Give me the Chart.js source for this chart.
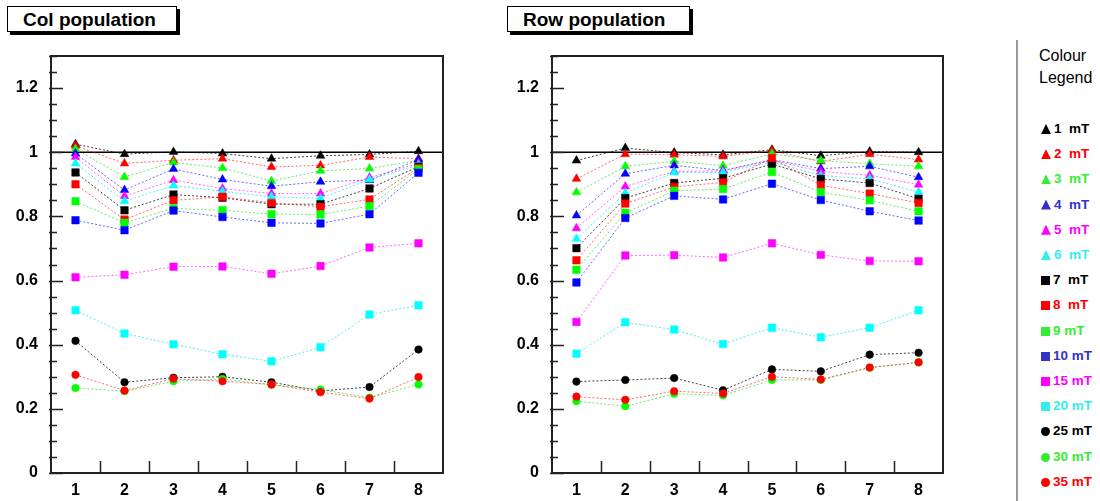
<!DOCTYPE html>
<html>
<head>
<meta charset="utf-8">
<script src="https://cdn.jsdelivr.net/npm/chart.js@4.4.1/dist/chart.umd.min.js"></script>
<style>
  body { margin: 0; background: #fff; width: 1100px; height: 501px; overflow: hidden; position: relative; font-family: 'Liberation Sans', Arial, sans-serif; }
  .title { position: absolute; top: 6px; height: 26px; border: 1px solid #000; background: #fff; box-shadow: 3px 3px 0 #000;
           font-weight: bold; font-size: 19px; line-height: 26px; box-sizing: border-box; padding-left: 15px; }
  canvas { position: absolute; top: 0; }
  #legend { position: absolute; left: 1016px; top: 40px; width: 84px; height: 461px; border-left: 2px solid #999; }
  .lhead { position: absolute; left: 21px; font-size: 16px; }
  .lrow { position: absolute; left: 23px; font-size: 13.5px; font-weight: bold; white-space: pre; height: 14px; line-height: 14px; }
  .mk { display: inline-block; width: 10px; height: 10px; margin-right: 3px; vertical-align: -1px; }
</style>
</head>
<body>
<div class="title" style="left:7px;width:170px;">Col population</div>
<div class="title" style="left:507px;width:183px;">Row population</div>
<canvas id="chart-col" width="460" height="501" style="left:0px;width:460px;height:501px;"></canvas>
<canvas id="chart-row" width="460" height="501" style="left:500px;width:460px;height:501px;"></canvas>
<div id="legend">
  <div class="lhead" style="top:7px;">Colour</div>
  <div class="lhead" style="top:29px;">Legend</div>
</div>
<script>
// === Data ===
const CATEGORIES = ['1', '2', '3', '4', '5', '6', '7', '8'];
const Y_TICKS = [0, 0.2, 0.4, 0.6, 0.8, 1, 1.2];

const SERIES_NAMES = ['1  mT', '2  mT', '3  mT', '4  mT', '5  mT', '6  mT', '7  mT', '8  mT', '9 mT',
  '10 mT', '15 mT', '20 mT', '25 mT', '30 mT', '35 mT'];

// column population, one array per field
const COL_1 = [1.025, 0.994, 1.001, 0.996, 0.980, 0.989, 0.993, 1.003];
const COL_2 = [1.020, 0.965, 0.975, 0.980, 0.954, 0.959, 0.985, 0.980];
const COL_3 = [1.010, 0.923, 0.968, 0.951, 0.910, 0.942, 0.949, 0.975];
const COL_4 = [0.996, 0.882, 0.948, 0.915, 0.894, 0.908, 0.913, 0.977];
const COL_5 = [0.985, 0.863, 0.913, 0.887, 0.871, 0.871, 0.921, 0.965];
const COL_6 = [0.965, 0.847, 0.896, 0.878, 0.861, 0.856, 0.915, 0.960];
const COL_7 = [0.937, 0.819, 0.868, 0.858, 0.838, 0.838, 0.887, 0.955];
const COL_8 = [0.900, 0.790, 0.850, 0.861, 0.842, 0.830, 0.853, 0.952];
const COL_9 = [0.847, 0.780, 0.825, 0.819, 0.807, 0.806, 0.832, 0.947];
const COL_10 = [0.788, 0.757, 0.818, 0.798, 0.780, 0.778, 0.807, 0.936];
const COL_15 = [0.610, 0.618, 0.643, 0.644, 0.621, 0.645, 0.703, 0.716];
const COL_20 = [0.507, 0.435, 0.401, 0.370, 0.348, 0.392, 0.494, 0.523];
const COL_25 = [0.412, 0.283, 0.297, 0.300, 0.283, 0.256, 0.268, 0.385];
const COL_30 = [0.265, 0.255, 0.286, 0.293, 0.275, 0.260, 0.235, 0.276];
const COL_35 = [0.306, 0.257, 0.294, 0.286, 0.276, 0.252, 0.232, 0.299];

// row population
const ROW_1 = [0.974, 1.013, 0.999, 0.992, 1.008, 0.989, 1.002, 1.000];
const ROW_2 = [0.917, 0.994, 0.992, 0.987, 1.005, 0.971, 0.994, 0.977];
const ROW_3 = [0.875, 0.956, 0.972, 0.958, 0.995, 0.974, 0.964, 0.956];
const ROW_4 = [0.803, 0.933, 0.959, 0.943, 0.977, 0.949, 0.956, 0.922];
const ROW_5 = [0.763, 0.893, 0.940, 0.942, 0.975, 0.940, 0.928, 0.899];
const ROW_6 = [0.730, 0.873, 0.937, 0.937, 0.970, 0.927, 0.917, 0.876];
const ROW_7 = [0.701, 0.857, 0.904, 0.919, 0.963, 0.917, 0.904, 0.855];
const ROW_8 = [0.663, 0.840, 0.892, 0.906, 0.982, 0.897, 0.871, 0.842];
const ROW_9 = [0.634, 0.811, 0.880, 0.885, 0.938, 0.876, 0.850, 0.816];
const ROW_10 = [0.594, 0.795, 0.864, 0.853, 0.902, 0.851, 0.816, 0.787];
const ROW_15 = [0.471, 0.678, 0.679, 0.672, 0.716, 0.680, 0.661, 0.660];
const ROW_20 = [0.372, 0.470, 0.447, 0.402, 0.453, 0.423, 0.453, 0.507];
const ROW_25 = [0.285, 0.290, 0.296, 0.258, 0.323, 0.317, 0.369, 0.375];
const ROW_30 = [0.224, 0.208, 0.247, 0.242, 0.290, 0.290, 0.328, 0.345];
const ROW_35 = [0.238, 0.228, 0.255, 0.248, 0.300, 0.292, 0.329, 0.345];

const COL_DATA = [COL_1, COL_2, COL_3, COL_4, COL_5, COL_6, COL_7, COL_8, COL_9, COL_10, COL_15, COL_20, COL_25, COL_30, COL_35];
const ROW_DATA = [ROW_1, ROW_2, ROW_3, ROW_4, ROW_5, ROW_6, ROW_7, ROW_8, ROW_9, ROW_10, ROW_15, ROW_20, ROW_25, ROW_30, ROW_35];

// === Styles ===
const PALETTE = ['#000000', '#ff0000', '#00ff00', '#0000ff', '#ff00ff', '#00ffff'];
const LINE_COLORS = ['rgba(0,0,0,0.75)', 'rgba(255,0,0,0.6)', 'rgba(0,220,0,0.6)', 'rgba(0,0,255,0.6)', 'rgba(255,0,255,0.6)', 'rgba(0,230,230,0.7)'];
const TEXT_COLORS = ['#000000', '#ff0000', '#33ee33', '#3333cc', '#ff00ff', '#33eeee'];

function seriesStyle(i) {
  let c, shape, radius;
  if (i < 6) { c = i; shape = 'triangle'; radius = 5; }
  else if (i < 12) { c = i - 6; shape = 'rect'; radius = 5.3; }
  else { c = [0, 2, 1][i - 12]; shape = 'circle'; radius = 3.8; }
  return { color: PALETTE[c], line: LINE_COLORS[c], text: TEXT_COLORS[c], shape, radius };
}

const TICK_FONT = { family: 'Liberation Sans', size: 16, weight: 'bold' };

// ticks inside the frame + frame + unity line
const framePlugin = {
  id: 'rootFrame',
  beforeDatasetsDraw(chart) {
    const { ctx, chartArea: a, scales } = chart;
    const y1 = scales.y.getPixelForValue(1);
    ctx.save();
    ctx.strokeStyle = '#000';
    ctx.lineWidth = 1.5;
    ctx.beginPath();
    ctx.moveTo(a.left, y1);
    ctx.lineTo(a.right, y1);
    ctx.stroke();
    ctx.restore();
  },
  afterDraw(chart) {
    const { ctx, chartArea: a, scales } = chart;
    ctx.save();
    ctx.strokeStyle = '#222';
    ctx.lineWidth = 2;
    ctx.strokeRect(a.left, a.top, a.right - a.left, a.bottom - a.top);
    ctx.lineWidth = 1.5;
    ctx.beginPath();
    for (let k = 0; k <= 26; k++) {
      const v = k * 0.05;
      const y = Math.round(scales.y.getPixelForValue(v)) + 0.5;
      const len = k % 4 === 0 ? 12 : 6;
      ctx.moveTo(a.left - 2, y);
      ctx.lineTo(a.left + len, y);
    }
    for (let i = 0; i < CATEGORIES.length - 1; i++) {
      const x = Math.round((scales.x.getPixelForValue(i) + scales.x.getPixelForValue(i + 1)) / 2) + 0.5;
      ctx.moveTo(x, a.bottom);
      ctx.lineTo(x, a.bottom - 12);
    }
    ctx.stroke();
    ctx.restore();
  },
};

function buildChart(id, data, yWidth) {
  const ctx = document.getElementById(id);
  const n = data.length;
  return new Chart(ctx, {
    type: 'line',
    data: {
      labels: CATEGORIES,
      datasets: data.map((vals, i) => {
        const s = seriesStyle(i);
        return {
          label: SERIES_NAMES[i],
          data: vals,
          borderColor: s.line,
          backgroundColor: s.color,
          borderWidth: 1,
          borderDash: [2, 2],
          pointStyle: s.shape,
          pointRadius: s.radius,
          pointBackgroundColor: s.color,
          pointBorderColor: s.color,
          pointBorderWidth: 0.5,
          fill: false,
          tension: 0,
          order: n - i,
        };
      }),
    },
    options: {
      responsive: false,
      animation: false,
      layout: { padding: { top: 56, right: 17, left: 0, bottom: 0 } },
      plugins: { legend: { display: false }, tooltip: { enabled: false } },
      scales: {
        x: {
          type: 'category',
          offset: true,
          grid: { display: false },
          border: { display: false },
          ticks: { color: '#000', font: TICK_FONT, padding: 0, maxRotation: 0 },
          afterFit(scale) { scale.height = 28; },
        },
        y: {
          min: 0,
          max: 1.3,
          grid: { display: false },
          border: { display: false },
          ticks: { color: '#000', font: TICK_FONT, padding: 5, callback: v => String(+v.toFixed(2)) },
          afterBuildTicks(scale) { scale.ticks = Y_TICKS.map(v => ({ value: v })); },
          afterFit(scale) { scale.width = yWidth; },
        },
      },
    },
    plugins: [framePlugin],
  });
}

buildChart('chart-col', COL_DATA, 51);
buildChart('chart-row', ROW_DATA, 52);

// === Legend panel ===
const legend = document.getElementById('legend');
const LEGEND_TOP = 82;
const LEGEND_STEP = 25.2;
SERIES_NAMES.forEach((name, i) => {
  const s = seriesStyle(i);
  const row = document.createElement('div');
  row.className = 'lrow';
  row.style.top = (LEGEND_TOP + i * LEGEND_STEP) + 'px';
  row.style.color = s.text;
  const mk = document.createElement('span');
  mk.className = 'mk';
  mk.style.background = s.text;
  if (s.shape === 'triangle') mk.style.clipPath = 'polygon(50% 0, 100% 100%, 0 100%)';
  else if (s.shape === 'circle') { mk.style.borderRadius = '50%'; mk.style.width = '9px'; mk.style.height = '9px'; }
  else { mk.style.width = '9px'; mk.style.height = '9px'; }
  row.appendChild(mk);
  row.appendChild(document.createTextNode(name));
  legend.appendChild(row);
});
</script>
</body>
</html>
